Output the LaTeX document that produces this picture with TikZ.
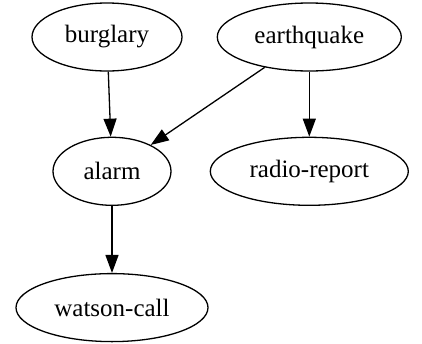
\documentclass[tikz,border=0pt]{standalone}
\usepackage{fontspec}
\setmainfont{Liberation Serif}
\usetikzlibrary{shapes,arrows.meta}
\usetikzlibrary{positioning}

\begin{document}
\begin{tikzpicture}[x=1pt,y=-1pt,>={Triangle[length=18pt,width=13pt]},line width=1.3pt,
  var/.style={ellipse,draw,inner sep=0pt,minimum height=68pt,font=\fontsize{25}{30}\selectfont}]
\path[use as bounding box] (0,0) rectangle (422,343);
\path node[var,minimum width=150pt] (burglary) at (107,37) {burglary};
\path node[var,minimum width=184pt,right=34pt of burglary] (quake) {earthquake};
\path node[var,minimum width=118pt,below=65pt of burglary,xshift=5pt] (alarm) {alarm};
\path node[var,minimum width=198pt,below=65pt of quake] (radio) {radio-report};
\path node[var,minimum width=192pt,below=67pt of alarm] (watson) {watson-call};
\path[->] (burglary) edge (alarm);
\path[->] (quake) edge (alarm);
\path[->] (quake) edge (radio);
\path[->] (alarm) edge (watson);
\end{tikzpicture}
\end{document}
